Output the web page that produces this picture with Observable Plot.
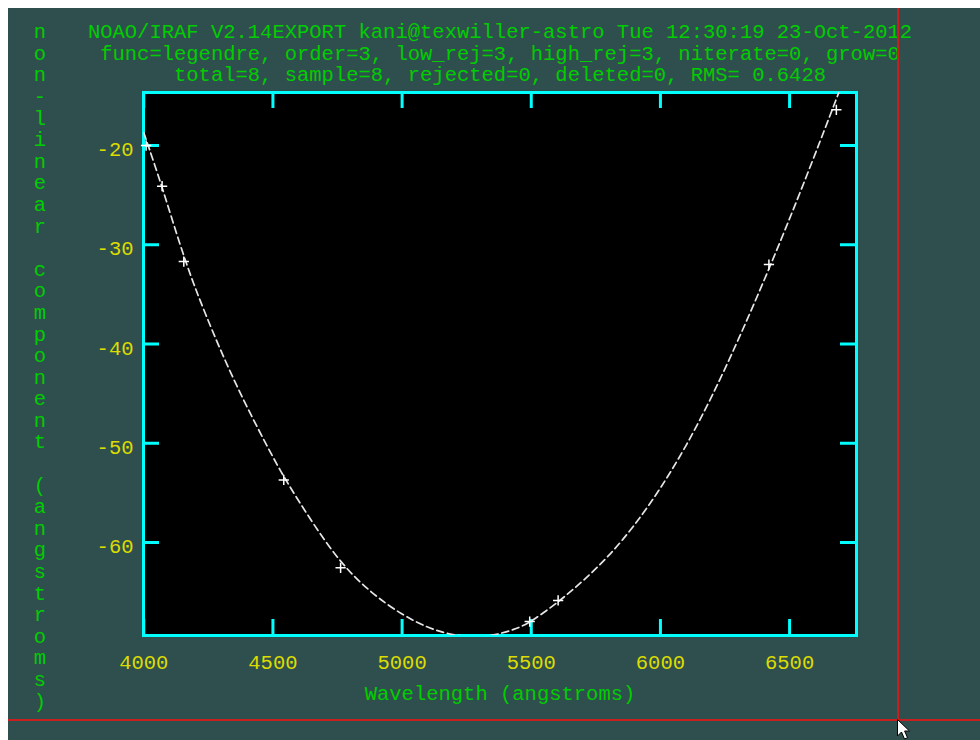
<!DOCTYPE html>
<html>
<head>
<meta charset="utf-8">
<script src="https://cdn.jsdelivr.net/npm/d3@7"></script>
<script src="https://cdn.jsdelivr.net/npm/@observablehq/plot@0.6"></script>
<style>
html, body { margin: 0; padding: 0; background: #ffffff; }
#page { position: relative; width: 980px; height: 740px; overflow: hidden; background: #ffffff;
        font-family: "Liberation Mono", "DejaVu Sans Mono", monospace; }
#bg { position: absolute; left: 8px; top: 8px; right: 0; bottom: 0; background: #2f4f4f; }
#chart { position: absolute; left: 0; top: 0; }
.g { position: absolute; color: #00cd00; font-size: 20.5px; line-height: 21.6px; white-space: pre; }
#title { left: 0; top: 22.2px; width: 1000px; text-align: center; }
#ylabel { left: 25px; top: 22.2px; width: 30px; text-align: center; }
#xlabel { left: 0; top: 683.7px; width: 1000px; text-align: center; }
.red { position: absolute; background: #c81e1e; }
#cursor { position: absolute; left: 897px; top: 719px; }
</style>
</head>
<body>
<div id="page">
  <div id="bg"></div>
  <div id="chart"></div>
  <div id="title" class="g"></div>
  <div id="ylabel" class="g"></div>
  <div id="xlabel" class="g"></div>
  <div class="red" style="left:897px; top:8px; width:2px; height:713px;"></div>
  <div class="red" style="left:8px; top:719px; width:972px; height:2px;"></div>
  <svg id="cursor" width="16" height="22" viewBox="0 0 16 22">
    <path d="M0.5,0.5 L0.5,17 L4.5,13 L7.5,20 L10.5,18.7 L7.6,12 L12.5,12 Z" fill="#ffffff" stroke="#000000" stroke-width="1"/>
  </svg>
</div>
<script>
// ---- text ----
const titleLines = [
  "NOAO/IRAF V2.14EXPORT kani@texwiller-astro Tue 12:30:19 23-Oct-2012",
  "func=legendre, order=3, low_rej=3, high_rej=3, niterate=0, grow=0",
  "total=8, sample=8, rejected=0, deleted=0, RMS= 0.6428"
];
const yLabel = "non-linear component (angstroms)";
const xLabel = "Wavelength (angstroms)";

// ---- axes ----
const xDomain = [3999, 6759];
const yDomain = [-69.37, -14.66];
const xTicks = [4000, 4500, 5000, 5500, 6000, 6500];
const yTicks = [-20, -30, -40, -50, -60];

// ---- fitted curve ----
const curveX = [4000, 4072, 4156, 4233, 4349, 4479, 4546, 4650, 4762, 4880, 5000, 5100, 5180, 5265, 5350, 5433, 5494, 5605, 5700, 5800, 5900, 6000, 6100, 6200, 6300, 6420, 6550, 6690];
const curveY = [-18.7, -24.2, -31.4, -36.7, -43.8, -50.4, -53.6, -57.9, -62.1, -65.1, -67.3, -68.6, -69.25, -69.55, -69.4, -68.8, -68.1, -66.0, -63.9, -61.4, -58.3, -54.6, -50.3, -45.3, -39.7, -32.5, -24.2, -14.7];

// ---- sample points ----
const ptX = [4009, 4071, 4155, 4542, 4762, 5494, 5604, 6420, 6681];
const ptY = [-20.0, -24.1, -31.7, -53.7, -62.55, -67.96, -65.84, -32.0, -16.4];

const curve = curveX.map((x, i) => ({x, y: curveY[i]}));
const points = ptX.map((x, i) => ({x, y: ptY[i]}));

document.getElementById("title").textContent = titleLines.join("\n");
document.getElementById("ylabel").textContent = yLabel.split("").join("\n");
document.getElementById("xlabel").textContent = xLabel;

const W = 980, H = 740;
const mL = 143, mR = 124, mT = 92, mB = 105;
const frameW = W - mL - mR, frameH = H - mT - mB;
const tickLen = 16;
const cyan = "#00ffff", yellow = "#dcdc00";
const font = "Liberation Mono, DejaVu Sans Mono, monospace";

const chart = Plot.plot({
  width: W, height: H,
  marginLeft: mL, marginRight: mR, marginTop: mT, marginBottom: mB,
  x: {domain: xDomain, axis: null},
  y: {domain: yDomain, axis: null},
  style: {background: "transparent", overflow: "visible"},
  marks: [
    Plot.frame({fill: "#000000", stroke: null}),
    Plot.frame({stroke: cyan, strokeWidth: 3}),
    Plot.tickX(xTicks, {x: d => d, insetTop: frameH - tickLen, stroke: cyan, strokeWidth: 3}),
    Plot.tickX(xTicks, {x: d => d, insetBottom: frameH - tickLen, stroke: cyan, strokeWidth: 3}),
    Plot.tickY(yTicks, {y: d => d, insetRight: frameW - tickLen, stroke: cyan, strokeWidth: 3}),
    Plot.tickY(yTicks, {y: d => d, insetLeft: frameW - tickLen, stroke: cyan, strokeWidth: 3}),
    Plot.line(curve, {x: "x", y: "y", curve: "basis", stroke: "#e6e6e6", strokeWidth: 1.7, strokeDasharray: "7,4", clip: true}),
    Plot.dot(points, {x: "x", y: "y", symbol: "plus", r: 3.4, stroke: "#ffffff", strokeWidth: 1.5}),
    Plot.text(xTicks, {x: d => d, frameAnchor: "bottom", dy: 27, text: d => String(d), lineAnchor: "middle", fill: yellow, fontSize: 20.5, fontFamily: font}),
    Plot.text(yTicks, {y: d => d, frameAnchor: "left", dx: -10, dy: 4, text: d => String(d), textAnchor: "end", lineAnchor: "middle", fill: yellow, fontSize: 20.5, fontFamily: font})
  ]
});
document.getElementById("chart").appendChild(chart);
</script>
</body>
</html>
